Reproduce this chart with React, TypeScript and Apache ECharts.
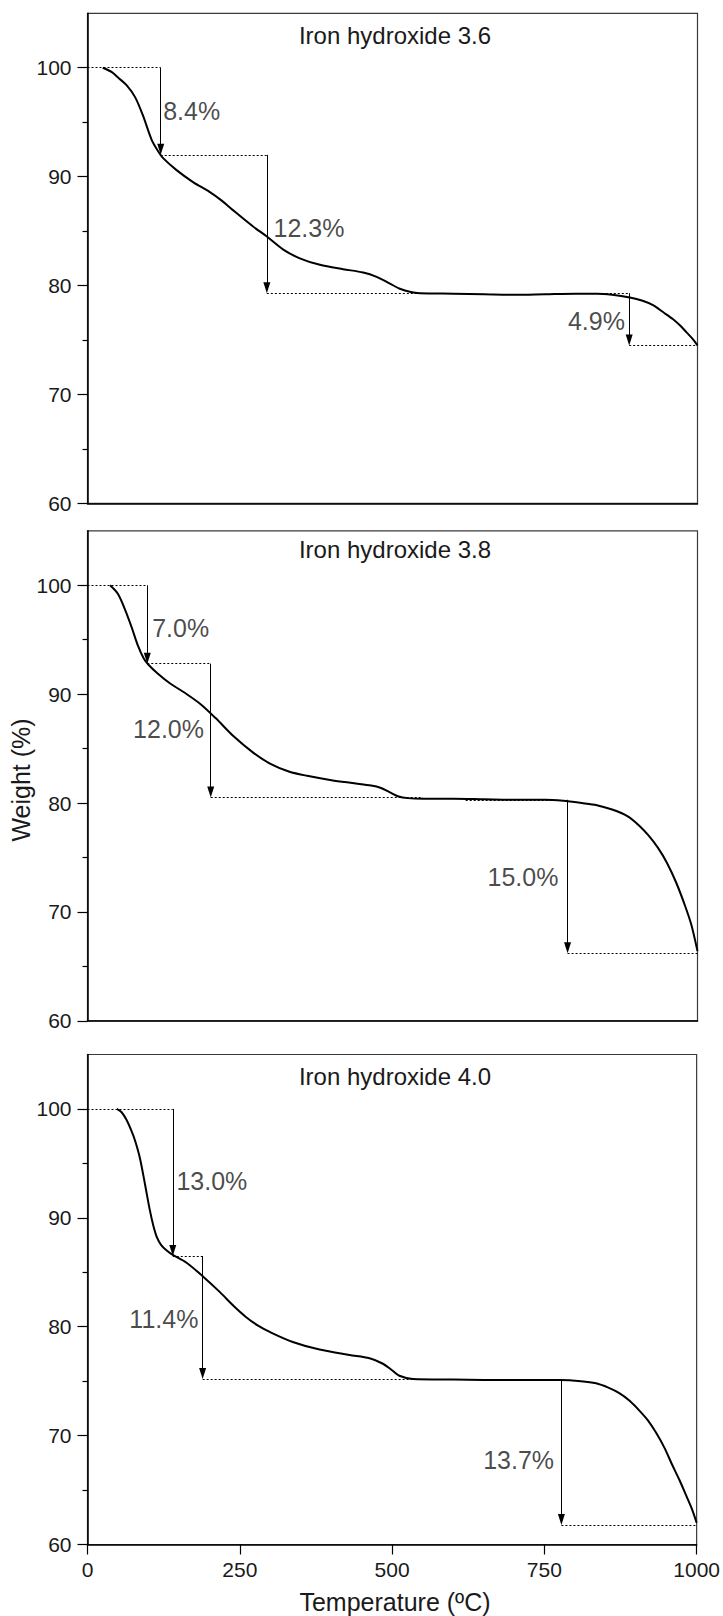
import React, { useEffect, useRef } from "react";
import * as echarts from "echarts";

// ---------- data ----------
const panelTitles = ["Iron hydroxide 3.6", "Iron hydroxide 3.8", "Iron hydroxide 4.0"];
const xAxisTitle = "Temperature (ºC)";
const yAxisTitle = "Weight (%)";

const xTicks = [0, 250, 500, 750, 1000];
const yMajorTicks = [60, 70, 80, 90, 100];
const yMinorTicks = [65, 75, 85, 95];

const temp36 = [25, 40, 50, 64, 78, 91, 105, 115, 124, 146, 173, 200, 220, 239, 272, 294, 321, 348, 381, 419, 452, 474, 495, 512, 530, 545, 600, 650, 700, 750, 800, 835, 860, 889, 910, 927, 945, 960, 972, 982, 992, 1000];
const weight36 = [100, 99.6, 99.1, 98.4, 97.3, 95.6, 93.4, 92.4, 91.7, 90.6, 89.5, 88.6, 87.8, 86.9, 85.4, 84.5, 83.3, 82.5, 81.9, 81.5, 81.2, 80.8, 80.2, 79.7, 79.4, 79.3, 79.25, 79.2, 79.15, 79.2, 79.25, 79.25, 79.15, 78.9, 78.6, 78.2, 77.5, 76.9, 76.3, 75.7, 75.1, 74.5];

const temp38 = [37, 50, 62, 72, 83, 92, 100, 115, 135, 160, 185, 210, 240, 270, 300, 330, 360, 400, 440, 465, 480, 495, 510, 525, 550, 600, 650, 700, 750, 780, 810, 835, 860, 885, 905, 920, 935, 950, 965, 980, 990, 1000];
const weight38 = [100, 99.2, 97.7, 96.2, 94.4, 93.3, 92.7, 91.9, 91.0, 90.1, 89.1, 87.8, 86.1, 84.7, 83.6, 82.9, 82.5, 82.1, 81.8, 81.6, 81.4, 81.0, 80.6, 80.45, 80.4, 80.4, 80.35, 80.3, 80.3, 80.2, 80.0, 79.8, 79.4, 78.8, 77.9, 77.0, 75.9, 74.5, 72.7, 70.5, 68.8, 66.4];

const temp40 = [48, 56, 64, 72, 78, 86, 94, 102, 108, 114, 121, 130, 140, 162, 190, 217, 240, 260, 280, 300, 337, 381, 430, 463, 485, 500, 512, 534, 600, 700, 775, 810, 835, 855, 873, 890, 906, 920, 933, 947, 960, 972, 982, 992, 1000];
const weight40 = [100, 99.7, 99.0, 98.0, 97.1, 95.5, 93.2, 90.8, 89.3, 88.2, 87.5, 87.0, 86.6, 85.9, 84.6, 83.2, 81.9, 80.9, 80.1, 79.5, 78.6, 77.9, 77.4, 77.1, 76.6, 76.0, 75.5, 75.2, 75.15, 75.1, 75.1, 75.0, 74.8, 74.4, 73.9, 73.2, 72.3, 71.4, 70.3, 68.9, 67.3, 65.9, 64.6, 63.3, 62.0];

// dotted guide lines: [x1, y1, x2, y2]
const guides36 = [[0, 100, 120, 100], [120, 92, 294, 92], [294, 79.3, 545, 79.3], [830, 79.3, 888, 79.3], [888, 74.5, 1000, 74.5]];
const guides38 = [[0, 100, 98, 100], [98, 92.8, 202, 92.8], [202, 80.5, 550, 80.5], [620, 80.3, 787, 80.3], [787, 66.2, 1000, 66.2]];
const guides40 = [[0, 100, 140, 100], [140, 86.5, 189, 86.5], [189, 75.2, 540, 75.2], [778, 61.8, 1000, 61.8]];

// arrows: [x, yFrom, yTo]
const arrows36 = [[120, 100, 92], [294, 92, 79.3], [888, 79.3, 74.5]];
const arrows38 = [[98, 100, 92.8], [202, 92.8, 80.5], [787, 80.3, 66.2]];
const arrows40 = [[140, 100, 86.5], [189, 86.5, 75.2], [778, 75.1, 61.8]];

// step labels: text, x, y, side ("l" = text starts at point, "r" = text ends at point)
const labels36 = [["8.4%", 124, 96, "l"], ["12.3%", 305, 85.3, "l"], ["4.9%", 881, 76.7, "r"]];
const labels38 = [["7.0%", 106, 96.05, "l"], ["12.0%", 191, 86.8, "r"], ["15.0%", 772, 73.2, "r"]];
const labels40 = [["13.0%", 146, 93.4, "l"], ["11.4%", 182, 80.7, "r"], ["13.7%", 766, 67.8, "r"]];

const panels = [
  { temp: temp36, weight: weight36, guides: guides36, arrows: arrows36, labels: labels36 },
  { temp: temp38, weight: weight38, guides: guides38, arrows: arrows38, labels: labels38 },
  { temp: temp40, weight: weight40, guides: guides40, arrows: arrows40, labels: labels40 },
];

// ---------- layout ----------
const W = 723;
const H = 1616;
const GRID_LEFT = 87.5;
const GRID_WIDTH = 610;
const GRID_H = 490;
const GRID_TOPS = [13.3, 530.8, 1054.5];
const TITLE_Y = [35, 549, 1076];
const Y_MIN = 60;
const Y_MAX = 105;
const FONT = "'Liberation Sans', Arial, Helvetica, sans-serif";
const TEXT = "#1a1a1a";

export default function App() {
  const ref = useRef<HTMLDivElement>(null);

  useEffect(() => {
    if (!ref.current) return;
    const chart = echarts.init(ref.current, undefined, { renderer: "svg" });
    const pxPerUnit = GRID_H / (Y_MAX - Y_MIN);
    const headLen = 11;
    const headHalf = headLen / 2 / pxPerUnit;
    const n = GRID_TOPS.length;

    // main grids (0..n-1) with frame, then overlay grids (n..2n-1) carrying the minor ticks
    const grids = [
      ...GRID_TOPS.map((top) => ({
        left: GRID_LEFT,
        top,
        width: GRID_WIDTH,
        height: GRID_H,
        show: true,
        borderColor: "#3a3a3a",
        borderWidth: 1.2,
        backgroundColor: "transparent",
      })),
      ...GRID_TOPS.map((top) => ({ left: GRID_LEFT, top, width: GRID_WIDTH, height: GRID_H, show: false })),
    ];

    const xAxes: any[] = GRID_TOPS.map((_, i) => {
      const last = i === n - 1;
      return {
        type: "value",
        gridIndex: i,
        min: 0,
        max: 1000,
        interval: 250,
        axisLine: { show: true, onZero: false, lineStyle: { color: "#000", width: 1.5 } },
        axisTick: { show: last, length: 10, lineStyle: { color: "#000", width: 1.2 } },
        axisLabel: {
          show: last,
          margin: 14,
          fontSize: 21,
          color: TEXT,
          fontFamily: FONT,
          customValues: xTicks,
          formatter: (v: number) => String(v),
        },
        splitLine: { show: false },
      };
    });
    GRID_TOPS.forEach((_, i) => {
      xAxes.push({ type: "value", gridIndex: n + i, min: 0, max: 1000, show: false });
    });

    const yAxes: any[] = GRID_TOPS.map((_, i) => ({
      type: "value",
      gridIndex: i,
      position: "left",
      min: Y_MIN,
      max: Y_MAX,
      interval: 5,
      axisLine: { show: true, onZero: false, lineStyle: { color: "#000", width: 1.5 } },
      axisTick: { show: true, length: 10, customValues: yMajorTicks, lineStyle: { color: "#000", width: 1.2 } },
      axisLabel: { show: true, margin: 16, fontSize: 21, color: TEXT, fontFamily: FONT, customValues: yMajorTicks },
      splitLine: { show: false },
    }));
    GRID_TOPS.forEach((_, i) => {
      yAxes.push({
        type: "value",
        gridIndex: n + i,
        position: "left",
        min: Y_MIN,
        max: Y_MAX,
        interval: 5,
        axisLine: { show: false },
        axisTick: { show: true, length: 5, customValues: yMinorTicks, lineStyle: { color: "#000", width: 1.2 } },
        axisLabel: { show: false },
        splitLine: { show: false },
      });
    });

    const series: any[] = [];
    panels.forEach((p, i) => {
      const dotted = { type: [2, 2], width: 1, color: "#000" };
      const solid = { type: "solid", width: 1, color: "#000" };
      const guideLines = p.guides.map((g) => [
        { coord: [g[0], g[1]], symbol: "none", lineStyle: dotted },
        { coord: [g[2], g[3]], symbol: "none", lineStyle: dotted },
      ]);
      const arrowLines = p.arrows.map((a) => [
        { coord: [a[0], a[1]], symbol: "none", lineStyle: solid },
        { coord: [a[0], a[2] + headHalf], symbol: "triangle", symbolSize: [7, headLen], lineStyle: solid },
      ]);
      series.push({
        type: "line",
        xAxisIndex: i,
        yAxisIndex: i,
        data: p.temp.map((t, k) => [t, p.weight[k]]),
        showSymbol: false,
        smooth: 0.3,
        lineStyle: { color: "#000", width: 2 },
        silent: true,
        z: 3,
        markLine: {
          silent: true,
          animation: false,
          symbol: ["none", "none"],
          label: { show: false },
          emphasis: { disabled: true },
          lineStyle: { color: "#000", width: 1 },
          data: [...guideLines, ...arrowLines],
        },
      });
      series.push({
        type: "scatter",
        xAxisIndex: i,
        yAxisIndex: i,
        symbolSize: 0,
        silent: true,
        z: 4,
        data: p.labels.map((l) => ({
          value: [l[1], l[2]],
          label: {
            show: true,
            formatter: l[0] as string,
            position: l[3] === "l" ? "right" : "left",
            distance: 0,
            fontSize: 25,
            color: TEXT,
            fontFamily: FONT,
          },
        })),
      });
    });

    const graphic: any[] = panelTitles.map((t, i) => ({
      type: "text",
      x: 395,
      y: TITLE_Y[i],
      style: { text: t, fontSize: 24, fontFamily: FONT, fill: TEXT, textAlign: "center", textVerticalAlign: "middle" },
      silent: true,
    }));
    graphic.push({
      type: "text",
      x: 395,
      y: 1602,
      style: { text: xAxisTitle, fontSize: 25, fontFamily: FONT, fill: TEXT, textAlign: "center", textVerticalAlign: "middle" },
      silent: true,
    });
    graphic.push({
      type: "text",
      x: 21,
      y: 780,
      rotation: Math.PI / 2,
      style: { text: yAxisTitle, fontSize: 25, fontFamily: FONT, fill: TEXT, textAlign: "center", textVerticalAlign: "middle" },
      silent: true,
    });

    chart.setOption({
      animation: false,
      backgroundColor: "#fff",
      grid: grids,
      xAxis: xAxes,
      yAxis: yAxes,
      series,
      graphic,
    });

    return () => chart.dispose();
  }, []);

  return <div ref={ref} style={{ position: "absolute", left: 0, top: 0, width: W, height: H }} />;
}
